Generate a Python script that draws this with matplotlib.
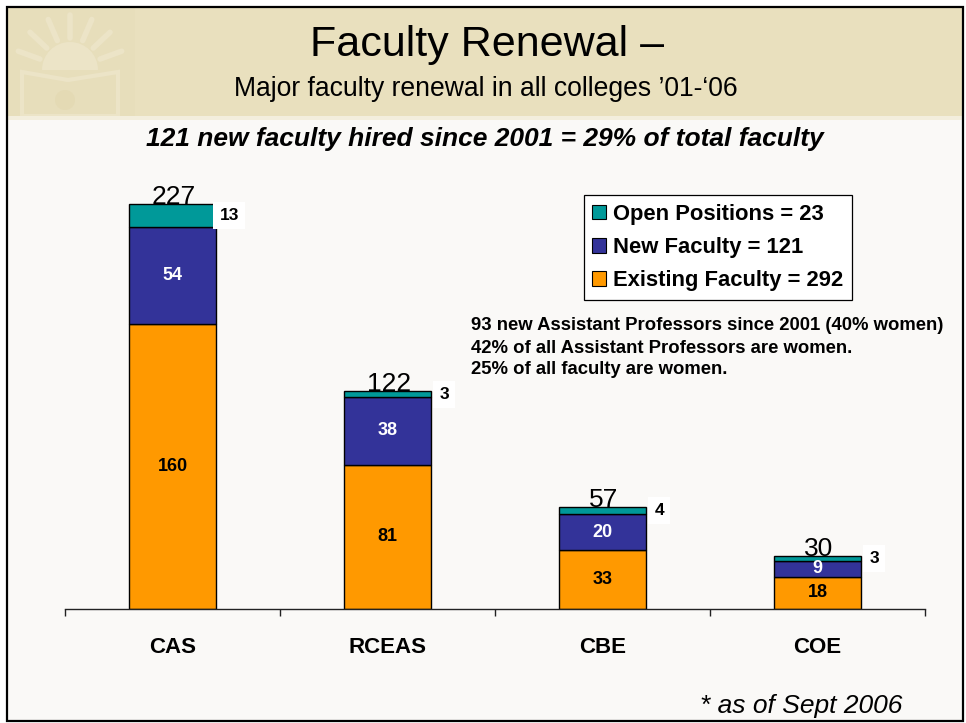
import matplotlib
matplotlib.use('Agg')
import matplotlib.pyplot as plt
from matplotlib.patches import Rectangle, Patch, Circle, Wedge, Polygon
import numpy as np

# ---- data ----
colleges = ['CAS', 'RCEAS', 'CBE', 'COE']
existing = [160, 81, 33, 18]
new_faculty = [54, 38, 20, 9]
open_positions = [13, 3, 4, 3]
totals = [227, 122, 57, 30]
legend_labels = ['Open Positions = 23', 'New Faculty = 121', 'Existing Faculty = 292']
notes = ['93 new Assistant Professors since 2001 (40% women)',
         '42% of all Assistant Professors are women.',
         '25% of all faculty are women.']

C_EXIST = '#FF9900'
C_NEW = '#333399'
C_OPEN = '#009999'

SANS = ['Liberation Sans', 'DejaVu Sans']
NARROW = ['Liberation Sans Narrow', 'Liberation Sans', 'DejaVu Sans']
plt.rcParams['font.family'] = SANS

W, H = 966, 723
fig = plt.figure(figsize=(W / 100, H / 100), dpi=100)
fig.patch.set_facecolor('white')

def fx(x):
    return x / W

def fy(y):
    return 1 - y / H

# slide background
fig.patches.append(Rectangle((fx(7), fy(721)), fx(956), 714 / H, transform=fig.transFigure,
                             facecolor='#FAF9F7', edgecolor='none', zorder=-3))
fig.patches.append(Rectangle((fx(7), fy(116)), fx(956), 109 / H, transform=fig.transFigure,
                             facecolor='#E9E0BE', edgecolor='none', zorder=-2))
fig.patches.append(Rectangle((fx(7), fy(120)), fx(956), 4 / H, transform=fig.transFigure,
                             facecolor='#F3EEDD', edgecolor='none', zorder=-2))

# faint decorative seal (pixel coordinates overlay axes)
deco = fig.add_axes([fx(7), fy(116), fx(130), 109 / H], zorder=-1)
deco.set_xlim(7, 137)
deco.set_ylim(116, 7)
deco.axis('off')
seal_c = '#ECE4C7'
deco.add_patch(Rectangle((10, 7), 125, 109, facecolor='#E7DEBB', edgecolor='none'))
deco.add_patch(Wedge((70, 70), 28, 180, 360, facecolor=seal_c, edgecolor='none'))
for ang in np.linspace(200, 340, 7):
    a = np.deg2rad(ang)
    deco.plot([70 + 32 * np.cos(a), 70 + 55 * np.cos(a)], [70 + 32 * np.sin(a), 70 + 55 * np.sin(a)],
              color=seal_c, lw=4, solid_capstyle='round')
deco.add_patch(Polygon([[22, 72], [68, 80], [118, 72], [118, 116], [22, 116]], closed=True,
                       facecolor='none', edgecolor=seal_c, lw=3))
deco.add_patch(Circle((65, 100), 10, facecolor='#E4DAB4', edgecolor='none'))

# border
fig.patches.append(Rectangle((fx(7), fy(721)), fx(956), 714 / H, transform=fig.transFigure,
                             facecolor='none', edgecolor='black', linewidth=1.6, zorder=5))

# titles
fig.text(fx(487), fy(45), 'Faculty Renewal –', ha='center', va='center',
         fontsize=31, family=NARROW)
fig.text(fx(486), fy(89), 'Major faculty renewal in all colleges \u201901-\u201806', ha='center', va='center',
         fontsize=19.1, family=NARROW)
fig.text(fx(485), fy(139), '121 new faculty hired since 2001 = 29% of total faculty', ha='center', va='center',
         fontsize=19, family=NARROW, fontweight='bold', fontstyle='italic')

# axes
AX_L, AX_R = 65, 925
ax = fig.add_axes([fx(AX_L), 114 / H, (AX_R - AX_L) / W, 428 / H])
ax.set_facecolor('none')
for s in ['left', 'right', 'top']:
    ax.spines[s].set_visible(False)
ax.spines['bottom'].set_linewidth(1.0)
ax.spines['bottom'].set_color('#222222')

x = np.arange(len(colleges))
bw = 0.405
b_exist = np.array(existing)
b_new = b_exist + np.array(new_faculty)
ax.bar(x, existing, bw, color=C_EXIST, edgecolor='black', linewidth=1.0, zorder=2)
ax.bar(x, new_faculty, bw, bottom=b_exist, color=C_NEW, edgecolor='black', linewidth=1.0, zorder=2)
ax.bar(x, open_positions, bw, bottom=b_new, color=C_OPEN, edgecolor='black', linewidth=1.0, zorder=2)

ax.set_xlim(-0.5, len(colleges) - 0.5)
ax.set_ylim(0, 240)
ax.set_yticks([])
ax.set_xticks(x)
ax.set_xticklabels(colleges, fontsize=16, fontweight='bold')
ax.tick_params(axis='x', which='major', length=0, pad=20)
ax.set_xticks(np.arange(len(colleges) + 1) - 0.5, minor=True)
ax.tick_params(axis='x', which='minor', length=5, direction='out', width=1.0, color='#222222')

for i in range(len(colleges)):
    ax.text(x[i], existing[i] / 2, str(existing[i]), ha='center', va='center',
            fontsize=13, fontweight='bold', color='black', zorder=3)
    ax.text(x[i], b_exist[i] + new_faculty[i] / 2, str(new_faculty[i]), ha='center', va='center',
            fontsize=13, fontweight='bold', color='white', zorder=3)
    ax.annotate(str(open_positions[i]), (x[i] + bw / 2, b_new[i] + open_positions[i] / 2),
                xytext=(9.5, 0), textcoords='offset points', ha='center', va='center',
                fontsize=12.5, fontweight='bold', color='black', zorder=3,
                bbox=dict(boxstyle='square,pad=0.35', facecolor='white', edgecolor='none'))
    ax.annotate(str(totals[i]), (x[i], totals[i]), xytext=(1, 0), textcoords='offset points',
                ha='center', va='baseline', fontsize=19, color='black', zorder=4)

handles = [Patch(facecolor=C_OPEN, edgecolor='black', linewidth=0.8),
           Patch(facecolor=C_NEW, edgecolor='black', linewidth=0.8),
           Patch(facecolor=C_EXIST, edgecolor='black', linewidth=0.8)]
leg = ax.legend(handles, legend_labels, loc='upper right',
                bbox_to_anchor=((852 - AX_L) / (AX_R - AX_L), (609 - 195) / 428),
                prop={'size': 15.8, 'weight': 'bold', 'family': SANS}, frameon=True, fancybox=False,
                edgecolor='black', facecolor='white', framealpha=1, handlelength=0.64, handleheight=0.64,
                handletextpad=0.3, labelspacing=0.56, borderpad=0.4, borderaxespad=0)
leg.get_frame().set_linewidth(0.9)

for k, line in enumerate(notes):
    fig.text(fx(471), fy(326 + 22 * k), line, ha='left', va='center', fontsize=13.3, fontweight='bold')

fig.text(fx(801), fy(706), '* as of Sept 2006', ha='center', va='center', fontsize=19, fontstyle='italic')

fig.savefig('out.png', dpi=100, facecolor='white')
